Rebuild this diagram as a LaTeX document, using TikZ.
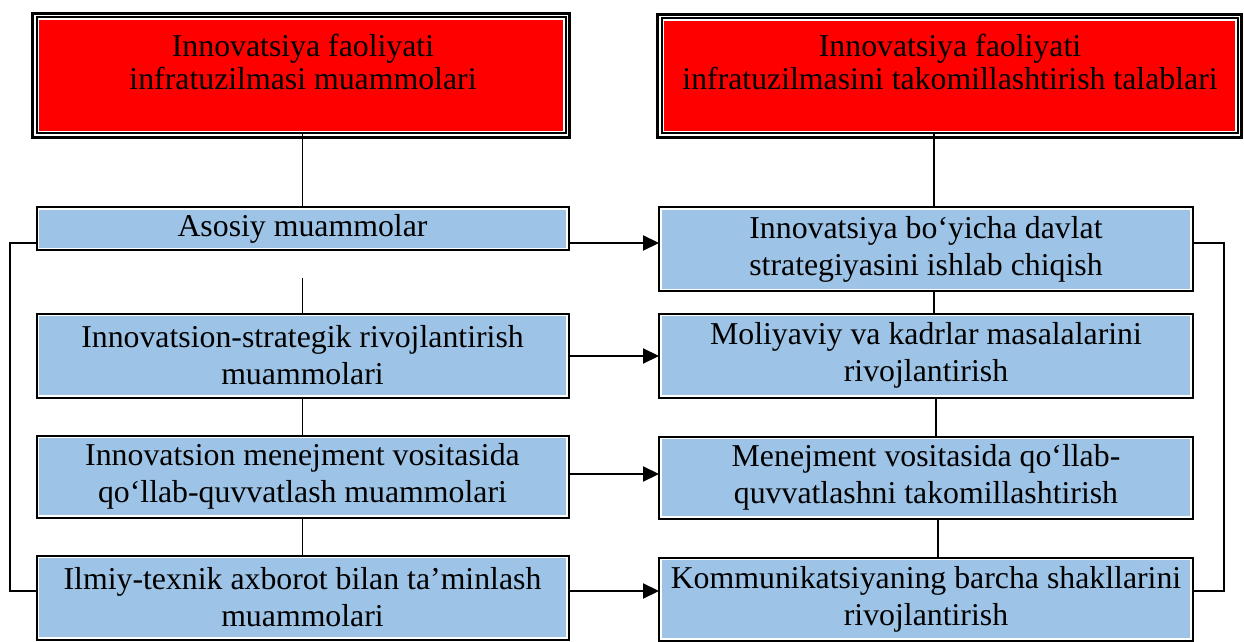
\documentclass[tikz,border=0pt]{standalone}
\usepackage{fontspec}
\setmainfont{Liberation Serif}
\usetikzlibrary{arrows.meta,calc}
\definecolor{boxblue}{HTML}{9DC3E6}
\begin{document}
\begin{tikzpicture}[x=0.5pt,y=-0.5pt,
 every node/.style={inner sep=0pt, outer sep=0pt},
 txt/.style={align=center, font=\fontsize{15.9}{18.5}\selectfont},
 redtxt/.style={align=center, font=\fontsize{15.9}{16.5}\selectfont},
 bluebox/.style={txt, draw=black, line width=1pt, fill=white,
   path picture={\fill[boxblue] ([shift={(1.3pt,-1.3pt)}]path picture bounding box.north west) rectangle ([shift={(-1.3pt,1.3pt)}]path picture bounding box.south east);}},
 lbox/.style={bluebox, minimum width=266pt},
 rbox/.style={bluebox, minimum width=267pt},
 redbox/.style={draw=black, line width=1pt, fill=white,
   path picture={\fill[red] ([shift={(1.2pt,-1.2pt)}]path picture bounding box.north west) rectangle ([shift={(-1.2pt,1.2pt)}]path picture bounding box.south east);}},
 frame/.style={draw=black, line width=1.5pt},
 link/.style={draw=black, line width=0.85pt},
 arr/.style={draw=black, line width=1.1pt, -{Triangle[length=8pt,width=7.5pt]}},
]
\useasboundingbox[fill=white] (0,0) rectangle (1244,642);

% red header boxes
\node[redbox, minimum width=264.5pt, minimum height=58pt] (p1) at (301,75.5) {};
\draw[frame] ([shift={(-2pt,2pt)}]p1.north west) rectangle ([shift={(2pt,-2pt)}]p1.south east);
\node[redtxt] (t1) at (303,61.5) {Innovatsiya faoliyati\\infratuzilmasi muammolari};

\node[redbox, minimum width=288pt, minimum height=57.5pt] (p2) at (949.5,76) {};
\draw[frame] ([shift={(-2pt,2pt)}]p2.north west) rectangle ([shift={(2pt,-2pt)}]p2.south east);
\node[redtxt] (t2) at (950,62) {Innovatsiya faoliyati\\infratuzilmasini takomillashtirish talablari};

% left column
\node[lbox, minimum height=21.5pt] (L1) at (302.5,229) {Asosiy muammolar};
\node[lbox, minimum height=42pt] (L2) at (302.5,355.5) {Innovatsion-strategik rivojlantirish\\muammolari};
\node[lbox, minimum height=41pt] (L3) at (302.5,476.5) {Innovatsion menejment vositasida\\qo‘llab-quvvatlash muammolari};
\node[lbox, minimum height=42pt] (L4) at (302.5,597.5) {Ilmiy-texnik axborot bilan ta’minlash\\muammolari};

% right column
\node[rbox, minimum height=42pt] (R1) at (926,249.5) {Innovatsiya bo‘yicha davlat\\strategiyasini ishlab chiqish};
\node[rbox, minimum height=42pt] (R2) at (926,355.5) {Moliyaviy va kadrlar masalalarini\\rivojlantirish};
\node[rbox, minimum height=41pt] (R3) at (926,477.5) {Menejment vositasida qo‘llab-\\quvvatlashni takomillashtirish};
\node[rbox, minimum height=41.5pt] (R4) at (926,599) {Kommunikatsiyaning barcha shakllarini\\rivojlantirish};

% vertical links
\draw[link] (L1.north) -- (L1.north |- p1.south);
\draw[link] (L2.north) -- ++(0,-35);
\draw[link] (L2.south) -- (L3.north);
\draw[link] (L3.south) -- (L4.north);
\draw[link] ([xshift=4pt]R1.north) -- ([xshift=4pt]R1.north |- p2.south);
\draw[link] ([xshift=4pt]R1.south) -- ([xshift=4pt]R1.south |- R2.north);
\draw[link] ([xshift=5pt]R2.south) -- ([xshift=5pt]R2.south |- R3.north);
\draw[link] ([xshift=6pt]R3.south) -- ([xshift=6pt]R3.south |- R4.north);

% bus coordinates
\coordinate (y1) at (0,243);
\coordinate (y2) at (0,356);
\coordinate (y3) at (0,474);
\coordinate (y4) at (0,591);
\coordinate (lb) at (10,0);
\coordinate (rb) at (1224,0);

\draw[link] (L1.west |- y1) -| (lb |- y4) -- (L4.west |- y4);
\draw[link] (R1.east |- y1) -| (rb |- y4) -- (R4.east |- y4);

% arrows
\draw[arr] (L1.east |- y1) -- (R1.west |- y1);
\draw[arr] (L2.east |- y2) -- (R2.west |- y2);
\draw[arr] (L3.east |- y3) -- (R3.west |- y3);
\draw[arr] (L4.east |- y4) -- (R4.west |- y4);
\end{tikzpicture}
\end{document}
